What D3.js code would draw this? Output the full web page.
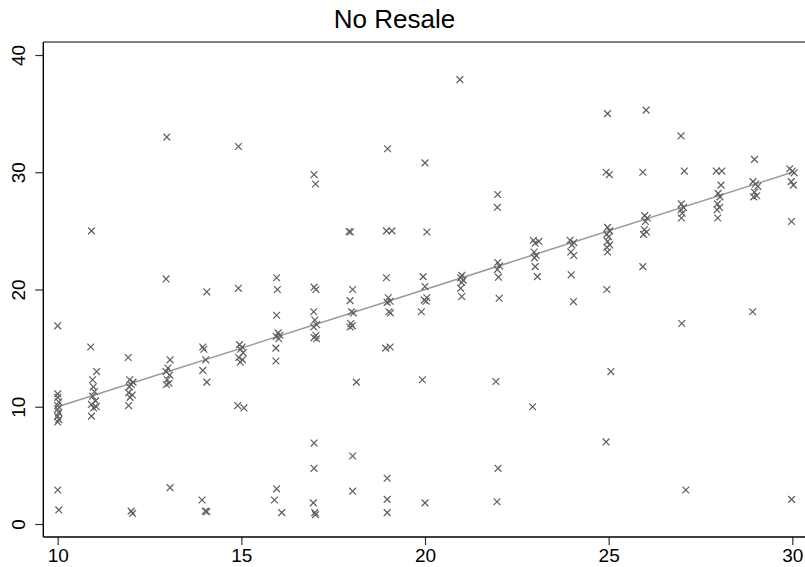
<!DOCTYPE html>
<html lang="en">
<head>
<meta charset="UTF-8">
<title>No Resale</title>
<script src="https://cdn.jsdelivr.net/npm/d3@7/dist/d3.min.js"></script>
<style>
  body { margin: 0; background: #fff; }
  svg { display: block; font-family: "Liberation Sans", Arial, sans-serif; }
</style>
</head>
<body>
<div id="chart"></div>
<script>
// chart data
var title = "No Resale";
var xTicks = [10, 15, 20, 25, 30];
var yTicks = [0, 10, 20, 30, 40];
var fitLine = [[10, 10], [30, 30]];
// [x, y] of each marker (x has a little jitter)
var scatter = [
  [10,16.9],[10,11.1],[10,10.8],[10.03,10.4],[10,10.1],[10,9.8],[10.03,9.5],[10,9.2],[10.03,8.9],[10,8.7],[10,2.9],[10.03,1.2],
  [10.92,25.0],[10.9,15.1],[11.06,13.0],[10.95,12.3],[10.97,11.7],[11.0,11.3],[10.95,10.9],[11.03,10.5],[10.92,10.2],[11.05,10.0],[10.98,9.9],[10.92,9.2],
  [11.92,14.2],[11.96,12.3],[12.05,12.1],[12.0,11.9],[11.95,11.7],[11.93,11.2],[12.03,11.0],[11.97,10.8],[11.93,10.1],[12.0,1.1],[12.04,0.9],
  [12.97,33.0],[12.95,20.9],[13.06,14.0],[13.0,13.3],[12.95,13.0],[13.05,12.7],[12.98,12.3],[13.03,12.0],[12.96,11.9],[13.06,3.1],
  [14.06,19.8],[13.95,15.1],[13.98,14.9],[14.03,14.0],[13.95,13.1],[14.06,12.1],[13.93,2.05],[14.02,1.1],[14.06,1.05],
  [14.92,32.2],[14.92,20.1],[14.95,15.3],[15.02,15.1],[14.98,14.9],[15.05,14.6],[14.93,14.2],[15.03,14.0],[14.97,13.8],[14.9,10.1],[15.07,9.9],
  [15.96,21.0],[15.98,20.0],[15.96,17.8],[16.0,16.3],[16.05,16.1],[15.95,16.0],[16.02,15.8],[15.94,15.0],[15.94,13.9],[15.96,3.0],[15.9,2.05],[16.1,0.97],
  [16.98,29.8],[17.02,29.0],[16.98,20.2],[17.03,20.0],[16.97,18.1],[17.0,17.4],[17.05,17.0],[16.97,16.8],[17.03,16.1],[16.98,15.9],[17.05,15.8],[16.98,6.9],[16.98,4.75],[16.96,1.8],[17.0,0.97],[17.02,0.8],
  [17.93,24.95],[17.97,24.9],[18.03,20.0],[17.96,19.05],[18.0,18.1],[18.05,18.0],[17.98,17.1],[18.02,16.9],[17.96,16.8],[18.13,12.1],[18.03,5.8],[18.03,2.8],
  [18.98,32.0],[18.95,25.0],[19.1,25.0],[18.95,21.0],[19.0,19.3],[19.05,19.0],[18.97,18.9],[19.02,18.1],[19.06,18.0],[18.93,15.0],[19.05,15.1],[18.97,3.9],[18.97,2.1],[18.97,0.97],
  [20.0,30.8],[20.05,24.9],[19.95,21.1],[20.0,20.25],[20.05,19.3],[19.98,19.1],[20.03,19.0],[19.9,18.1],[19.93,12.3],[20.0,1.8],
  [20.95,37.9],[21.0,21.2],[20.97,21.0],[21.04,20.8],[21.0,20.6],[20.97,20.1],[21.0,19.4],
  [21.98,28.1],[21.97,27.0],[21.98,22.3],[22.03,22.0],[21.97,21.7],[22.0,21.05],[22.02,19.25],[21.93,12.15],[21.99,4.75],[21.96,1.9],
  [22.95,24.2],[23.1,24.1],[23.0,23.95],[22.97,23.2],[23.03,22.9],[22.98,22.7],[23.0,21.95],[23.06,21.1],[22.93,10.0],
  [23.95,24.2],[24.05,24.0],[24.0,23.8],[23.97,23.2],[24.05,22.9],[23.98,21.25],[24.04,18.97],
  [24.97,35.0],[24.93,30.0],[25.02,29.8],[24.97,25.3],[25.03,25.0],[24.95,24.7],[25.0,24.5],[24.97,24.1],[25.03,23.8],[24.95,23.6],[24.97,23.2],[24.95,20.0],[25.06,13.0],[24.93,7.0],
  [26.02,35.3],[25.93,30.0],[25.98,26.3],[26.05,26.1],[26.0,25.8],[25.97,25.1],[26.03,24.9],[25.95,24.7],[25.93,21.95],
  [26.97,33.1],[27.06,30.1],[26.98,27.3],[27.04,27.0],[26.97,26.8],[27.0,26.5],[26.98,26.1],[26.99,17.1],[27.1,2.9],
  [27.93,30.1],[28.08,30.1],[28.06,28.9],[27.98,28.2],[28.03,27.9],[27.96,27.3],[28.02,27.0],[27.95,26.8],[27.97,26.1],
  [28.97,31.1],[28.93,29.2],[29.0,29.0],[29.06,28.8],[28.97,28.3],[29.03,28.0],[28.95,27.9],[28.92,18.1],
  [29.93,30.3],[30.0,30.1],[30.05,29.95],[29.97,29.2],[30.03,28.9],[29.98,25.8],[29.98,2.1]
];

var width = 805, height = 567;
// plot frame
var frame = {left: 43.3, top: 42, right: 805, bottom: 537};

var svg = d3.select("#chart").append("svg")
    .attr("width", width)
    .attr("height", height);

var x = d3.scaleLinear().domain([10, 30]).range([57.7, 792.3]);
var y = d3.scaleLinear().domain([0, 40]).range([524, 55]);

// top border
svg.append("line")
    .attr("x1", frame.left).attr("x2", frame.right)
    .attr("y1", frame.top).attr("y2", frame.top)
    .attr("stroke", "#555").attr("stroke-width", 1.3);

// fitted line
svg.append("path")
    .datum(fitLine)
    .attr("fill", "none")
    .attr("stroke", "#9a9a9a")
    .attr("stroke-width", 1.5)
    .attr("d", d3.line().x(function(d){ return x(d[0]); }).y(function(d){ return y(d[1]); }));

// markers
var s = 3.4;
svg.append("g").selectAll("path")
    .data(scatter)
    .join("path")
    .attr("transform", function(d){ return "translate(" + x(d[0]) + "," + y(d[1]) + ")"; })
    .attr("d", "M" + (-s) + "," + (-s) + "L" + s + "," + s + "M" + (-s) + "," + s + "L" + s + "," + (-s))
    .attr("stroke", "#5e5e5e")
    .attr("stroke-width", 1.2)
    .attr("fill", "none");

// x axis
var xAxis = svg.append("g")
    .attr("transform", "translate(0," + frame.bottom + ")")
    .call(d3.axisBottom(x).tickValues(xTicks).tickSize(8).tickPadding(4).tickSizeOuter(0));
xAxis.select(".domain").remove();
xAxis.append("line")
    .attr("x1", frame.left).attr("x2", frame.right)
    .attr("stroke", "#000").attr("stroke-width", 1.4);
xAxis.selectAll(".tick line").attr("stroke", "#333").attr("stroke-width", 1.2);
xAxis.selectAll(".tick text")
    .attr("fill", "#000")
    .style("font-size", "19px")
    .style("font-family", "'Liberation Sans', Arial, sans-serif");

// y axis
var yAxis = svg.append("g")
    .attr("transform", "translate(" + frame.left + ",0)")
    .call(d3.axisLeft(y).tickValues(yTicks).tickSize(8).tickSizeOuter(0));
yAxis.select(".domain").remove();
yAxis.append("line")
    .attr("y1", frame.top).attr("y2", frame.bottom)
    .attr("stroke", "#000").attr("stroke-width", 1.4);
yAxis.selectAll(".tick line").attr("stroke", "#333").attr("stroke-width", 1.2);
yAxis.selectAll(".tick text")
    .attr("x", null).attr("dy", null)
    .attr("transform", "translate(-18,0) rotate(-90)")
    .attr("text-anchor", "middle")
    .attr("fill", "#000")
    .style("font-size", "19px")
    .style("font-family", "'Liberation Sans', Arial, sans-serif");

// title
svg.append("text")
    .attr("x", 394.5)
    .attr("y", 28)
    .attr("text-anchor", "middle")
    .style("font-size", "26px")
    .attr("fill", "#000")
    .text(title);
</script>
</body>
</html>
